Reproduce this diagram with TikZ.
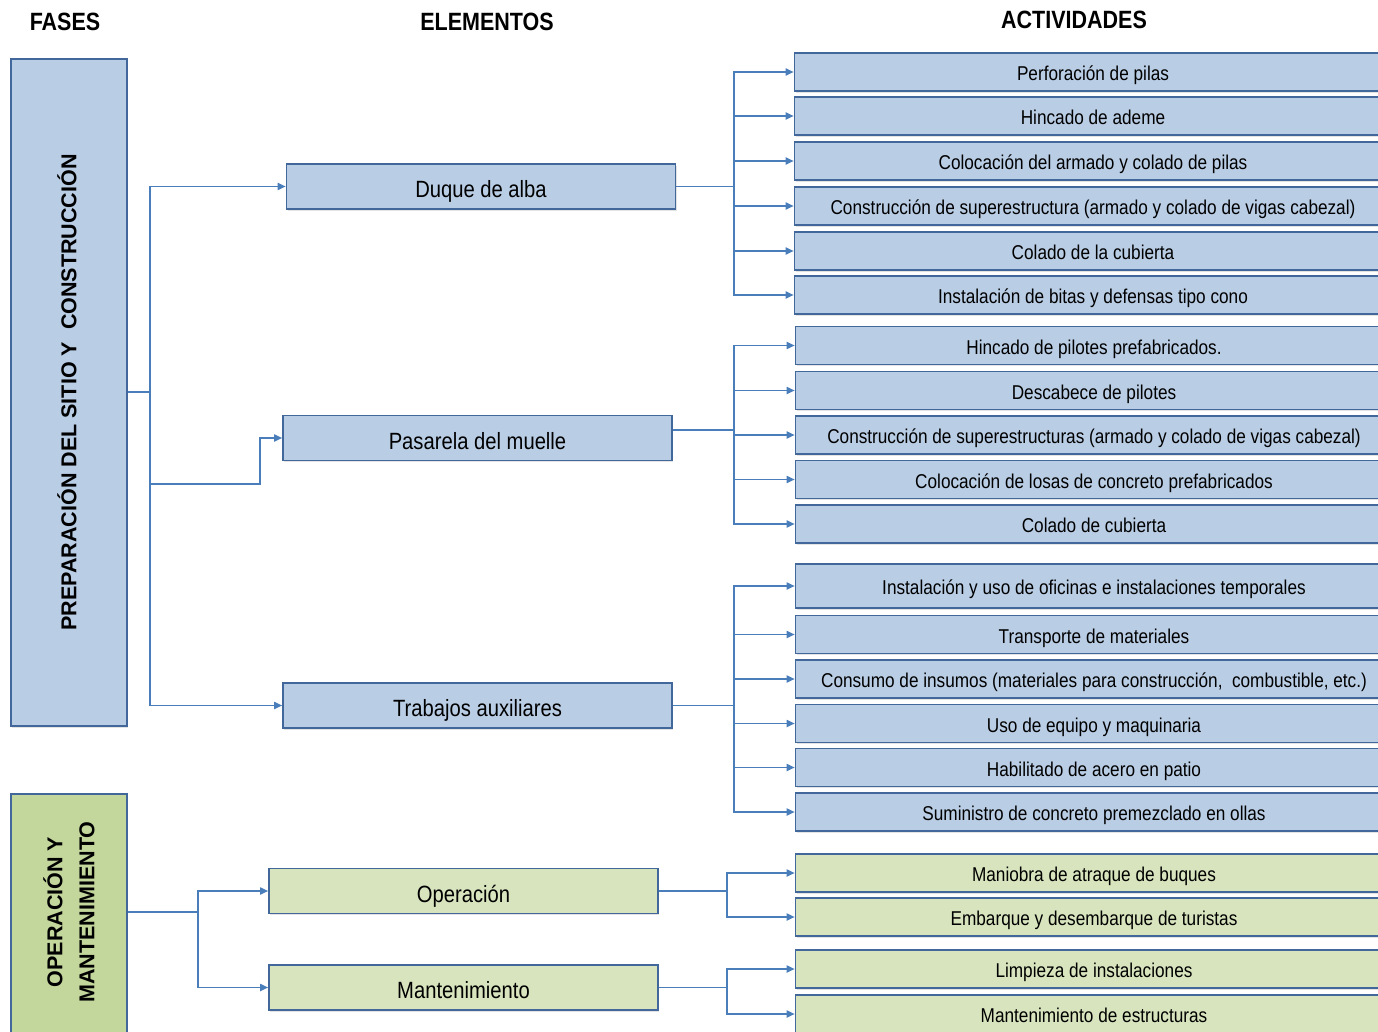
\documentclass[tikz,border=0pt]{standalone}
\usepackage{fontspec}
\setmainfont{Liberation Sans}[FakeStretch=0.86]
\newfontfamily\rotfont{Liberation Sans}
\usetikzlibrary{arrows.meta,shadows}
\definecolor{bfill}{HTML}{B9CDE5}
\definecolor{gfill}{HTML}{D7E4BD}
\definecolor{gdark}{HTML}{C3D69B}
\definecolor{bord}{HTML}{41679B}
\definecolor{connc}{HTML}{4A7EBB}
\tikzset{
 boxbase/.style={draw=bord, line width=1.6pt, inner sep=0pt, drop shadow={shadow xshift=1.2pt, shadow yshift=-1.8pt, opacity=0.22}},
 act/.style={boxbase, fill=bfill, minimum width=597pt, minimum height=38pt, text height=17pt, text depth=0pt, font=\fontsize{20}{24}\selectfont},
 actg/.style={act, fill=gfill},
 elem/.style={boxbase, fill=bfill, minimum width=389pt, minimum height=45pt, text height=22pt, text depth=0pt, font=\fontsize{23.5}{28}\selectfont},
 elemg/.style={elem, fill=gfill},
 phase/.style={boxbase, minimum width=116pt},
 head/.style={font=\bfseries\fontsize{25}{30}\selectfont},
 rottext/.style={rotate=90, align=center, font=\rotfont\bfseries\fontsize{21.5}{32}\selectfont},
 cline/.style={draw=connc, line width=1.7pt},
 aline/.style={cline, -{Triangle[length=8pt,width=7pt]}},
}
\begin{document}
\begin{tikzpicture}[x=1pt,y=-1pt]
\useasboundingbox (0,0) rectangle (1378,1032);
\clip (0,0) rectangle (1378,1032);

% headers
\node[head] (hf) at (65,22) {FASES};
\node[head] (he) at (487,22) {ELEMENTOS};
\node[head] (ha) at (1074,20) {ACTIVIDADES};

% phases
\node[phase, fill=bfill, minimum height=667pt] (ph1) at (69,392.5) {};
\node[rottext] (ph1t) at (67,392.5) {PREPARACIÓN DEL SITIO Y~\ CONSTRUCCIÓN};
\node[phase, fill=gdark, minimum height=260pt, anchor=north] (ph2) at (69,793) {};
\node[rottext] (ph2t) at (69,912) {OPERACIÓN Y\\MANTENIMIENTO};

% elements
\node[elem] (duque) at (481,186.5) {Duque de alba};
\node[elem] (pas) at (477.5,438) {Pasarela del muelle};
\node[elem] (trab) at (477.5,705.5) {Trabajos auxiliares};
\node[elemg] (oper) at (463.5,891) {Operación};
\node[elemg] (mant) at (463.5,987.5) {Mantenimiento};

% activities group 1
\node[act] (a1) at (1093,72) {Perforación de pilas};
\node[act] (a2) at (1093,116) {Hincado de ademe};
\node[act] (a3) at (1093,161) {Colocación del armado y colado de pilas};
\node[act] (a4) at (1093,206) {Construcción de superestructura (armado y colado de vigas cabezal)};
\node[act] (a5) at (1093,251) {Colado de la cubierta};
\node[act] (a6) at (1093,295) {Instalación de bitas y defensas tipo cono};
% group 2
\node[act] (b1) at (1094,345.5) {Hincado de pilotes prefabricados.};
\node[act] (b2) at (1094,390.5) {Descabece de pilotes};
\node[act] (b3) at (1094,435) {Construcción de superestructuras (armado y colado de vigas cabezal)};
\node[act] (b4) at (1094,479.5) {Colocación de losas de concreto prefabricados};
\node[act] (b5) at (1094,524) {Colado de cubierta};
% group 3
\node[act, minimum height=44pt] (c1) at (1094,586) {Instalación y uso de oficinas e instalaciones temporales};
\node[act] (c2) at (1094,634.5) {Transporte de materiales};
\node[act] (c3) at (1094,679) {Consumo de insumos (materiales para construcción,\ \ combustible, etc.)};
\node[act] (c4) at (1094,723.5) {Uso de equipo y maquinaria};
\node[act] (c5) at (1094,767.5) {Habilitado de acero en patio};
\node[act] (c6) at (1094,812) {Suministro de concreto premezclado en ollas};
% group 4, 5
\node[actg] (d1) at (1094,873) {Maniobra de atraque de buques};
\node[actg] (d2) at (1094,917) {Embarque y desembarque de turistas};
\node[actg] (e1) at (1094,969) {Limpieza de instalaciones};
\node[actg] (e2) at (1094,1014) {Mantenimiento de estructuras};

% connectors phase 1
\coordinate (j1) at (150,392);
\coordinate (k1) at (260,484);
\draw[cline] (ph1.east |- j1) -- (j1);
\draw[aline] (j1) |- (duque.west);
\draw[aline] (j1) |- (trab.west);
\draw[aline] (j1) |- (k1) |- (pas.west);

% connectors phase 2
\coordinate (j7) at (198,912);
\draw[cline] (ph2.east |- j7) -- (j7);
\draw[aline] (j7) |- (oper.west);
\draw[aline] (j7) |- (mant.west);

% brackets
\coordinate (j2) at (734,186.5);
\draw[cline] (duque.east) -- (j2);
\foreach \n in {a1,a2,a3,a4,a5,a6} \draw[aline] (j2) |- (\n.west);
\coordinate (j3) at (734,430);
\draw[cline] (pas.east |- j3) -- (j3);
\foreach \n in {b1,b2,b3,b4,b5} \draw[aline] (j3) |- (\n.west);
\coordinate (j4) at (734,705.5);
\draw[cline] (trab.east) -- (j4);
\foreach \n in {c1,c2,c3,c4,c5,c6} \draw[aline] (j4) |- (\n.west);
\coordinate (j5) at (727,891);
\draw[cline] (oper.east) -- (j5);
\foreach \n in {d1,d2} \draw[aline] (j5) |- (\n.west);
\coordinate (j6) at (727,987.5);
\draw[cline] (mant.east) -- (j6);
\foreach \n in {e1,e2} \draw[aline] (j6) |- (\n.west);
\end{tikzpicture}
\end{document}
